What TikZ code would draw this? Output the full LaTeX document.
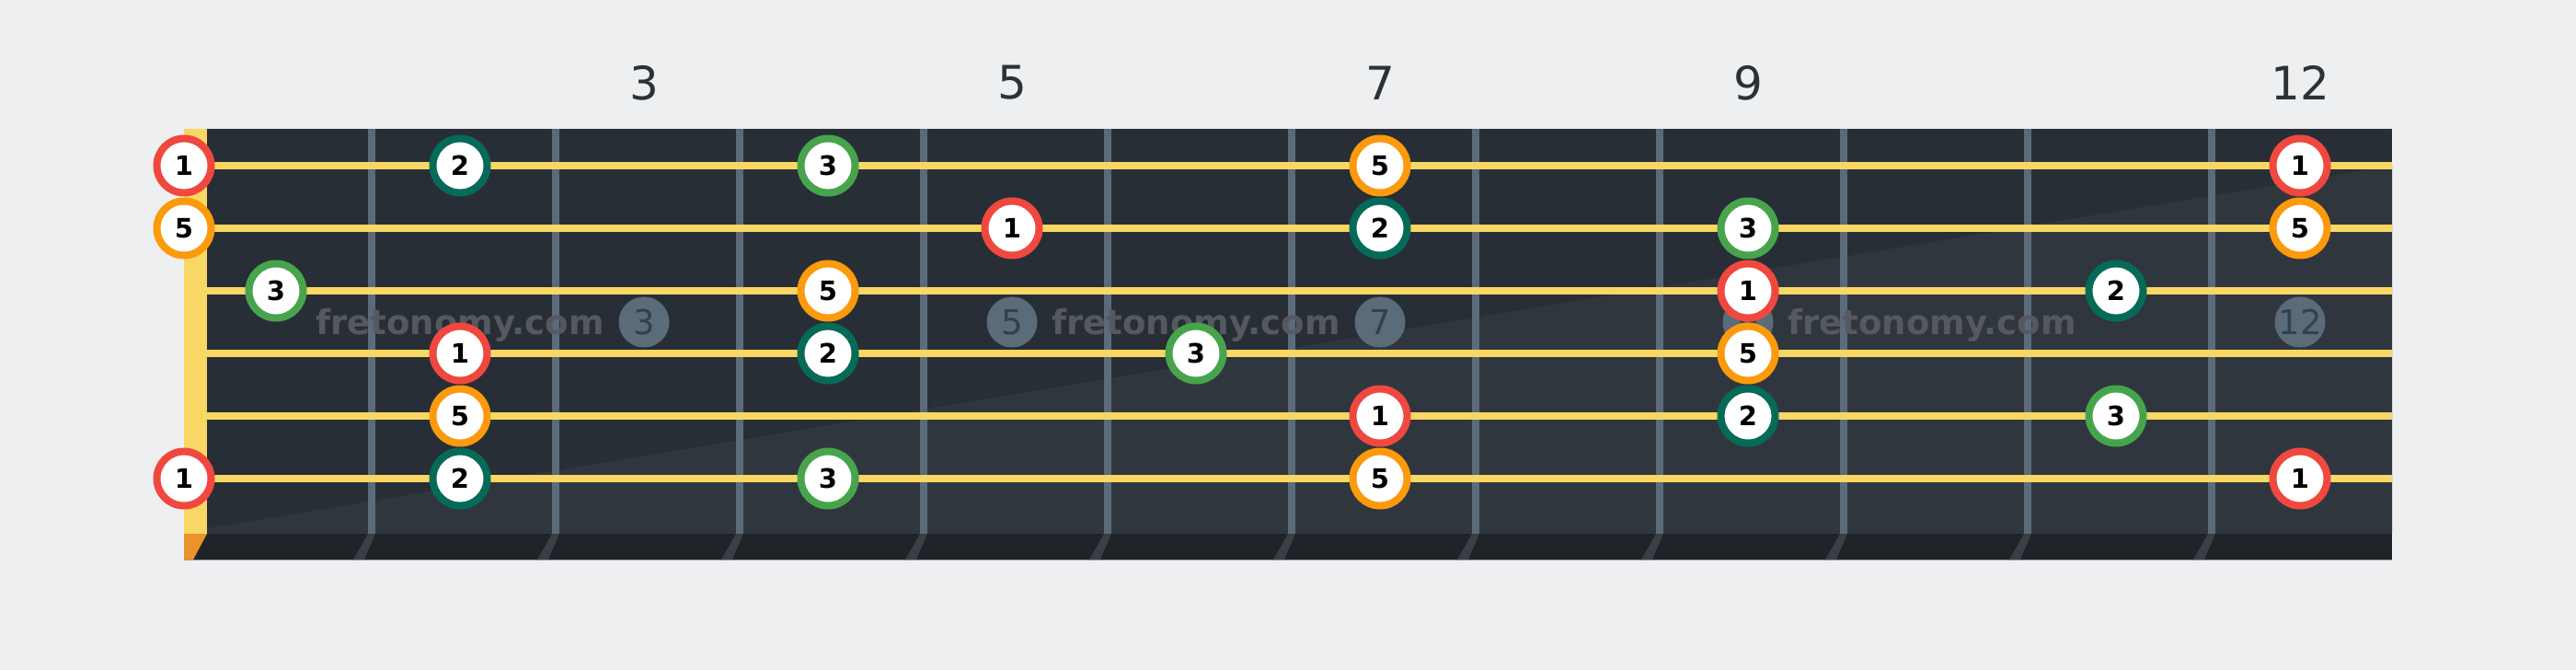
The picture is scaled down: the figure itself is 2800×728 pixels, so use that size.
\documentclass[tikz,border=0pt]{standalone}
\usepackage{fontspec}
\setmainfont{DejaVu Sans}
\definecolor{bg}{HTML}{EEEFF1}
\definecolor{boardtop}{HTML}{282E36}
\definecolor{boardlow}{HTML}{30363E}
\definecolor{boardbot}{HTML}{1F2327}
\definecolor{fretc}{HTML}{5B6B7A}
\definecolor{nutc}{HTML}{F8D764}
\definecolor{nutbot}{HTML}{EC922A}
\definecolor{strc}{HTML}{F8D764}
\definecolor{redc}{HTML}{F0483E}
\definecolor{orgc}{HTML}{FB9A0C}
\definecolor{grnc}{HTML}{48A44C}
\definecolor{tealc}{HTML}{066A59}
\definecolor{numc}{HTML}{2B3137}
\definecolor{markc}{HTML}{5A6B7A}
\definecolor{marktxt}{HTML}{36404A}
\definecolor{wmc}{HTML}{55595F}
\definecolor{shadowc}{HTML}{3A3E45}
\definecolor{edgec}{HTML}{9AA0A6}
\tikzset{
  note/.style={circle, fill=white, draw=#1, line width=8pt, minimum size=59pt, inner sep=0pt,
    font=\fontsize{29}{29}\selectfont\bfseries, text=black},
  fretwire/.style={draw=fretc, line width=8pt},
  guitarstring/.style={draw=strc, line width=8pt},
  fretnum/.style={font=\fontsize{50}{50}\selectfont, text=numc, inner sep=0pt},
  inlay/.style={circle, fill=markc, minimum size=55pt, inner sep=0pt,
    font=\fontsize{37}{37}\selectfont, text=marktxt},
  watermark/.style={font=\fontsize{37}{37}\selectfont\bfseries, text=wmc, inner sep=0pt, anchor=base},
  fretshadow/.style={fill=shadowc},
}
\begin{document}
\begin{tikzpicture}[x=1pt,y=-1pt]
\useasboundingbox (0,0) rectangle (2800,728);
\fill[bg] (0,0) rectangle (2800,728);
% fretboard
\fill[boardtop] (225,140) rectangle (2600,580);
\fill[boardlow] (225,574) -- (2600,180) -- (2600,580) -- (225,580) -- cycle;
% nut
\fill[nutc] (200,140) rectangle (225,580);
% bottom strip
\fill[boardbot] (200,580) rectangle (2600,608);
\draw[edgec, line width=1.5pt] (200,608.5) -- (2600,608.5);
\fill[nutbot] (200,580) -- (225,580) -- (210,608) -- (200,608) -- cycle;
% frets
\foreach \i in {1,...,11}{
  \pgfmathsetmacro{\fx}{204+200*\i}
  \coordinate (ft\i) at (\fx,140);
  \coordinate (fb\i) at (\fx,580);
  \draw[fretwire] (ft\i) -- (fb\i);
  \fill[fretshadow] (\fx-4,580) -- (\fx+4,580) -- (\fx-8,608) -- (\fx-20,608) -- cycle;
}
% fret numbers
\foreach \n in {3,5,7,9,12}{
  \pgfmathsetmacro{\nx}{100+200*\n}
  \node[fretnum] (num\n) at (\nx,90) {\n};
  \node[inlay] (inl\n) at (\nx,350) {\n};
}
% watermarks
\node[watermark] (wm1) at (500,363) {fretonomy.com};
\node[watermark] (wm2) at (1300,363) {fretonomy.com};
\node[watermark] (wm3) at (2100,363) {fretonomy.com};
% strings
\foreach \s in {1,...,6}{
  \pgfmathsetmacro{\sy}{180+68*(\s-1)}
  \coordinate (sl\s) at (225,\sy);
  \coordinate (sr\s) at (2600,\sy);
  \draw[guitarstring] (sl\s) -- (sr\s);
}
% notes: string / x / label / colour
\foreach \s/\x/\d/\c in {
  1/200/1/redc, 1/500/2/tealc, 1/900/3/grnc, 1/1500/5/orgc, 1/2500/1/redc,
  2/200/5/orgc, 2/1100/1/redc, 2/1500/2/tealc, 2/1900/3/grnc, 2/2500/5/orgc,
  3/300/3/grnc, 3/900/5/orgc, 3/1900/1/redc, 3/2300/2/tealc,
  4/500/1/redc, 4/900/2/tealc, 4/1300/3/grnc, 4/1900/5/orgc,
  5/500/5/orgc, 5/1500/1/redc, 5/1900/2/tealc, 5/2300/3/grnc,
  6/200/1/redc, 6/500/2/tealc, 6/900/3/grnc, 6/1500/5/orgc, 6/2500/1/redc}{
  \pgfmathsetmacro{\ny}{180+68*(\s-1)}
  \node[note=\c] (n\s-\x) at (\x,\ny) {\d};
}
\end{tikzpicture}
\end{document}
